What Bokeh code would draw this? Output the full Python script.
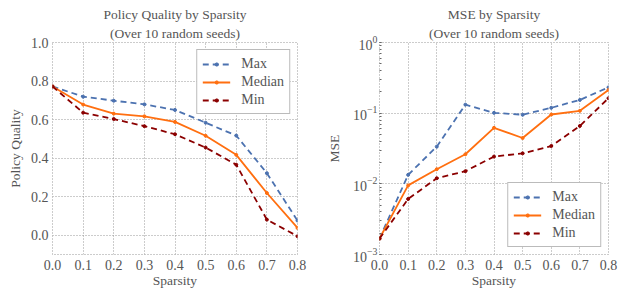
from bokeh.plotting import figure
from bokeh.layouts import row
from bokeh.models import Title, Range1d, FixedTicker, Legend, PrintfTickFormatter
from bokeh.embed import file_html
from bokeh.resources import INLINE

sparsity = [0.0, 0.1, 0.2, 0.3, 0.4, 0.5, 0.6, 0.7, 0.8]

pq_max = [0.772, 0.719, 0.698, 0.679, 0.650, 0.584, 0.517, 0.322, 0.076]
pq_median = [0.772, 0.678, 0.631, 0.617, 0.588, 0.516, 0.417, 0.219, 0.038]
pq_min = [0.772, 0.636, 0.603, 0.566, 0.524, 0.455, 0.366, 0.081, -0.005]

mse_max = [0.00168, 0.0134, 0.0336, 0.132, 0.101, 0.095, 0.119, 0.154, 0.232]
mse_median = [0.00168, 0.0095, 0.0161, 0.0262, 0.062, 0.0445, 0.0958, 0.108, 0.213]
mse_min = [0.00168, 0.0061, 0.012, 0.0151, 0.0243, 0.027, 0.0343, 0.066, 0.163]

x_ticks = [0.0, 0.1, 0.2, 0.3, 0.4, 0.5, 0.6, 0.7, 0.8]
pq_ticks = [0.0, 0.2, 0.4, 0.6, 0.8, 1.0]

FONT = "Liberation Serif"
TXT = "#555555"
BLUE = "#4C72B0"
ORANGE = "#FF6F10"
RED = "#8B0000"
GRID = "#999999"


def style(p, title1, title2, xlabel, ylabel):
    p.add_layout(Title(text=title2, align="center", text_font=FONT, text_font_size="13.5px",
                       text_font_style="normal", text_color=TXT, standoff=3), "above")
    p.add_layout(Title(text=title1, align="center", text_font=FONT, text_font_size="13.5px",
                       text_font_style="normal", text_color=TXT, standoff=2), "above")
    p.outline_line_color = GRID
    p.outline_line_dash = "1 2"
    p.outline_line_width = 1
    p.background_fill_color = "white"
    p.border_fill_color = "white"
    for g in (p.xgrid, p.ygrid):
        g.grid_line_color = GRID
        g.grid_line_dash = "1 2"
        g.grid_line_width = 1
    for ax in (p.xaxis, p.yaxis):
        ax.axis_line_color = None
        ax.major_tick_line_color = None
        ax.minor_tick_line_color = None
        ax.major_tick_out = 0
        ax.major_tick_in = 0
        ax.minor_tick_out = 0
        ax.minor_tick_in = 0
        ax.major_label_text_font = FONT
        ax.major_label_text_font_size = "14px"
        ax.major_label_text_color = TXT
        ax.axis_label_text_font = FONT
        ax.axis_label_text_font_size = "13.5px"
        ax.axis_label_text_font_style = "normal"
        ax.axis_label_text_color = TXT
    p.xaxis.axis_label = xlabel
    p.yaxis.axis_label = ylabel
    p.xaxis.major_label_standoff = 5
    p.xaxis.axis_label_standoff = 0
    p.xaxis.ticker = FixedTicker(ticks=x_ticks)
    p.xaxis.formatter = PrintfTickFormatter(format="%.1f")


def add_series(p, ys, label, color, dash):
    r1 = p.line(sparsity, ys, line_color=color, line_width=1.8, line_dash=dash)
    r2 = p.scatter(sparsity, ys, size=3, fill_color=color, line_color=color)
    return (label, [r1, r2])


p1 = figure(width=310, height=290, output_backend="svg", toolbar_location=None,
            x_range=Range1d(0.0, 0.8), y_range=Range1d(-0.1, 1.0),
            min_border_left=52, min_border_right=13, min_border_top=42, min_border_bottom=0)
style(p1, "Policy Quality by Sparsity", "(Over 10 random seeds)", "Sparsity", "Policy Quality")
p1.yaxis.ticker = FixedTicker(ticks=pq_ticks)
p1.yaxis.formatter = PrintfTickFormatter(format="%.1f")
p1.yaxis.major_label_standoff = 4
p1.yaxis.axis_label_standoff = 5
items1 = [add_series(p1, pq_max, "Max", BLUE, "6 4"),
          add_series(p1, pq_median, "Median", ORANGE, "solid"),
          add_series(p1, pq_min, "Min", RED, "6 4")]

p2 = figure(width=308, height=290, output_backend="svg", toolbar_location=None,
            x_range=Range1d(0.0, 0.8), y_range=Range1d(0.001, 1.0), y_axis_type="log",
            min_border_left=69, min_border_right=10, min_border_top=42, min_border_bottom=0)
style(p2, "MSE by Sparsity", "(Over 10 random seeds)", "Sparsity", "MSE")
p2.yaxis.major_label_standoff = 2
p2.yaxis.axis_label_standoff = 8
p2.yaxis.minor_tick_in = 2
p2.yaxis.minor_tick_line_color = "#666666"
items2 = [add_series(p2, mse_max, "Max", BLUE, "6 4"),
          add_series(p2, mse_median, "Median", ORANGE, "solid"),
          add_series(p2, mse_min, "Min", RED, "6 4")]


def make_legend(items, loc):
    lg = Legend(items=items, location=loc)
    lg.label_text_font = FONT
    lg.label_text_font_size = "14px"
    lg.label_text_color = TXT
    lg.border_line_color = "#777777"
    lg.border_line_width = 1
    lg.background_fill_color = "white"
    lg.background_fill_alpha = 1.0
    lg.margin = 7
    lg.padding = 5
    lg.spacing = 1
    lg.glyph_width = 28
    lg.glyph_height = 8
    lg.label_standoff = 11
    lg.label_height = 17
    return lg


p1.add_layout(make_legend(items1, "top_right"))
p2.add_layout(make_legend(items2, "bottom_right"))

layout = row(p1, p2)
open("out.html", "w").write(file_html(layout, INLINE))
